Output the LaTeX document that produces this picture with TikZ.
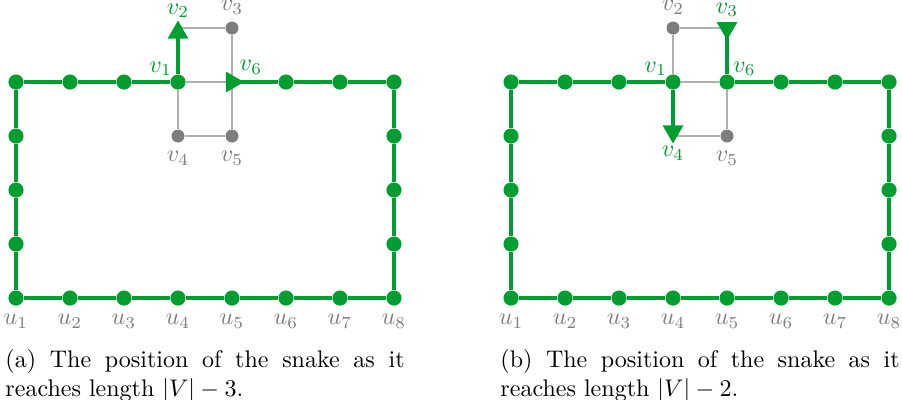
\documentclass[tikz,border=0pt]{standalone}
\usepackage{amsmath}
\usetikzlibrary{shapes.geometric}

\definecolor{snakegreen}{RGB}{0,158,48}
\definecolor{vgray}{RGB}{125,125,125}
\definecolor{egray}{RGB}{175,175,175}

\tikzset{
  dot/.style={circle,fill=snakegreen,inner sep=0pt,minimum size=6.3pt},
  gdot/.style={circle,fill=vgray,inner sep=0pt,minimum size=5.4pt},
  head/.style={regular polygon,regular polygon sides=3,fill=snakegreen,
    inner sep=0pt,minimum size=10pt},
  snake/.style={snakegreen,line width=1.3pt},
  edge/.style={egray,line width=0.7pt},
  lab/.style={vgray},
  glab/.style={snakegreen},
  capt/.style={anchor=north west,text width=5.84cm,align=justify,inner sep=0pt}
}

\begin{document}
\begin{tikzpicture}[x=0.79cm,y=0.79cm]
  \useasboundingbox (-0.296,-1.870) rectangle (16.407,5.519);

  % (a) snake of length |V|-3
  \begin{scope}
    % Outer cycle
    \foreach \i in {1,...,8}
      \node[dot,label={[lab]below:$u_{\i}$}] (au\i) at (\i-1,0) {};
    \foreach \j in {1,2,3} {
      \node[dot] (al\j) at (0,\j) {};
      \node[dot] (ar\j) at (7,\j) {};
    }
    \foreach \i in {0,1,2,5,6,7}
      \node[dot] (at\i) at (\i,4) {};

    % Gadget
    \node[dot,label={[glab,inner sep=0pt]135:$v_1$}] (av1) at (3,4) {};
    \coordinate (av2) at (3,5);
    \node[gdot,label={[lab,inner sep=2.5pt]above:$v_3$}] (av3) at (4,5) {};
    \node[gdot,label={[lab]below:$v_4$}] (av4) at (3,3) {};
    \node[gdot,label={[lab]below:$v_5$}] (av5) at (4,3) {};
    \coordinate (av6) at (4,4);

    % Unused edges
    \draw[edge] (av1) -- (av6) (av2) -- (av3) -- (av6)
      (av1) -- (av4) -- (av5) -- (av6);

    % Snake
    \draw[snake] (av6) -- (at5) -- (at6) -- (at7) -- (ar3) -- (ar2) -- (ar1)
      -- (au8) -- (au7) -- (au6) -- (au5) -- (au4) -- (au3) -- (au2) -- (au1)
      -- (al1) -- (al2) -- (al3) -- (at0) -- (at1) -- (at2) -- (av1) -- (av2);

    % Head and tail
    \node[head,yshift=-1.9pt,
      label={[glab,inner sep=0.6pt]above:$v_2$}] (ahead) at (av2) {};
    \node[head,shape border rotate=-90,
      label={[glab,inner sep=1pt]45:$v_6$}] (atail) at (av6) {};

    \node[capt] (capa) at (-0.204,-0.944)
      {(a) The position of the snake as it reaches length $|V|-3$.};
  \end{scope}

  % (b) snake of length |V|-2
  \begin{scope}[xshift=9.167*0.79cm]
    % Outer cycle
    \foreach \i in {1,...,8}
      \node[dot,label={[lab]below:$u_{\i}$}] (bu\i) at (\i-1,0) {};
    \foreach \j in {1,2,3} {
      \node[dot] (bl\j) at (0,\j) {};
      \node[dot] (br\j) at (7,\j) {};
    }
    \foreach \i in {0,1,2,5,6,7}
      \node[dot] (bt\i) at (\i,4) {};

    % Gadget
    \node[dot,label={[glab,inner sep=0pt]135:$v_1$}] (bv1) at (3,4) {};
    \node[gdot,label={[lab,inner sep=2.5pt]above:$v_2$}] (bv2) at (3,5) {};
    \coordinate (bv3) at (4,5);
    \coordinate (bv4) at (3,3);
    \node[gdot,label={[lab]below:$v_5$}] (bv5) at (4,3) {};
    \node[dot,label={[glab,inner sep=0pt]45:$v_6$}] (bv6) at (4,4) {};

    % Unused edges
    \draw[edge] (bv1) -- (bv2) -- (bv3) (bv1) -- (bv6) -- (bv5) -- (bv4);

    % Snake
    \draw[snake] (bv3) -- (bv6) -- (bt5) -- (bt6) -- (bt7) -- (br3) -- (br2)
      -- (br1) -- (bu8) -- (bu7) -- (bu6) -- (bu5) -- (bu4) -- (bu3) -- (bu2)
      -- (bu1) -- (bl1) -- (bl2) -- (bl3) -- (bt0) -- (bt1) -- (bt2) -- (bv1)
      -- (bv4);

    % Head and tail
    \node[head,shape border rotate=180,yshift=1.9pt,
      label={[glab,inner sep=0.6pt]below:$v_4$}] (bhead) at (bv4) {};
    \node[head,shape border rotate=180,
      label={[glab,inner sep=1.7pt]above:$v_3$}] (btail) at (bv3) {};

    \node[capt] (capb) at (-0.204,-0.944)
      {(b) The position of the snake as it reaches length $|V|-2$.};
  \end{scope}
\end{tikzpicture}
\end{document}
